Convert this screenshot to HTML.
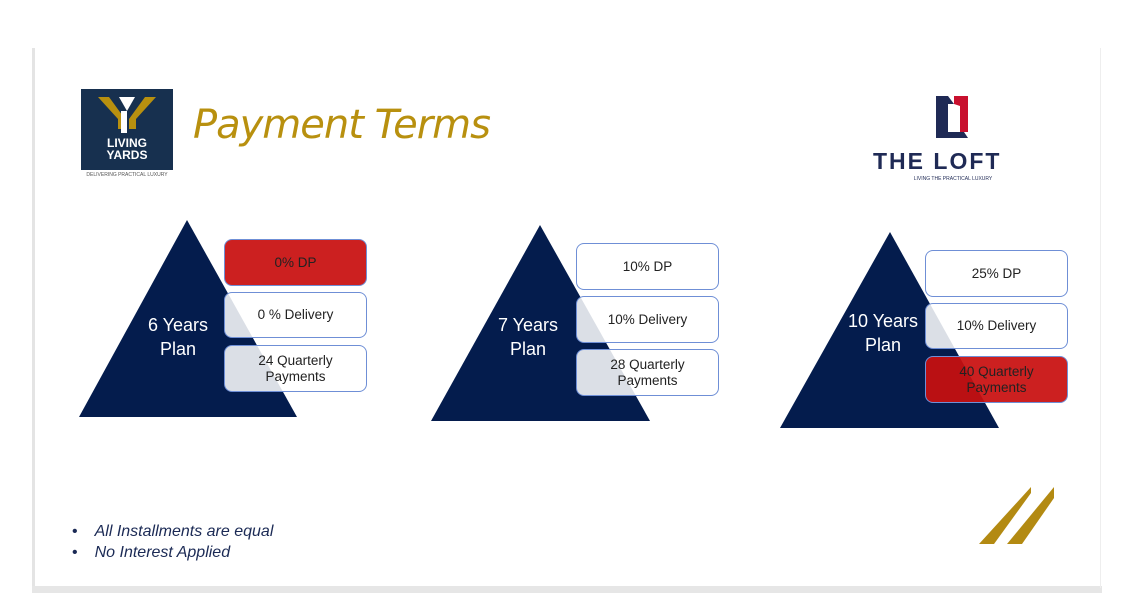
<!DOCTYPE html>
<html><head><style>
body{margin:0;width:1129px;height:600px;background:#fff;position:relative;overflow:hidden;font-family:"Liberation Sans",sans-serif}
.abs{position:absolute}
.box{position:absolute;width:143px;border:1.5px solid #6f8fd6;border-radius:8px;background:rgba(255,255,255,0.86);display:flex;align-items:center;justify-content:center;text-align:center;font-size:13.5px;color:#222;line-height:16px;box-sizing:border-box}
.red{background:rgba(200,15,15,0.93);color:#222}
.pl{position:absolute;color:#fff;font-size:18px;text-align:center;line-height:24px;width:100px}
</style></head><body>
<div class="abs" style="left:32px;top:48px;width:3px;height:545px;background:#e4e4e4"></div>
<div class="abs" style="left:32px;top:586px;width:1070px;height:7px;background:#e6e6e6"></div>
<div class="abs" style="left:1100px;top:48px;width:1px;height:540px;background:#eee"></div>

<div class="abs" style="left:81px;top:89px;width:92px;height:81px;background:#17304f"></div>
<svg class="abs" style="left:81px;top:89px" width="92" height="81">
<polygon points="17,8 28,8 44,30 44,40 37,40 37,30" fill="#b8900f"/>
<polygon points="75,8 64,8 48,30 48,40 55,40 55,30" fill="#b8900f"/>
<polygon points="38,8 46,22 54,8" fill="#fff"/>
<rect x="40" y="22" width="6" height="22" fill="#fff"/>
<text x="46" y="58" fill="#fff" font-size="12" font-weight="bold" text-anchor="middle">LIVING</text>
<text x="46" y="70" fill="#fff" font-size="12" font-weight="bold" text-anchor="middle">YARDS</text>
</svg>
<div class="abs" style="left:81px;top:172px;font-size:5px;color:#555;width:92px;text-align:center">DELIVERING PRACTICAL LUXURY</div>
<div class="abs" style="left:193px;top:102px;font-size:40px;font-style:italic;color:#b8900f;font-family:'DejaVu Sans',sans-serif;letter-spacing:-1px">Payment Terms</div>

<svg class="abs" style="left:934px;top:96px" width="40" height="48">
<polygon points="2,0 14,0 20,8 14,8 14,36 30,36 34,42 2,42" fill="#1f2a55"/>
<polygon points="20,0 34,0 34,36 26,36 26,10 20,8" fill="#c8102e"/>
<polygon points="14,42 22,36 30,42" fill="#1f2a55"/>
</svg>
<div class="abs" style="left:873px;top:148px;font-size:23px;font-weight:bold;color:#1f2a55;letter-spacing:2px">THE LOFT</div>
<div class="abs" style="left:873px;top:176px;width:160px;text-align:center;font-size:5px;color:#1f2a55">LIVING THE PRACTICAL LUXURY</div>

<svg class="abs" style="left:0;top:0" width="1129" height="600">
<polygon points="187,220 79,417 297,417" fill="#041c4d"/>
<polygon points="540,225 431,421 650,421" fill="#041c4d"/>
<polygon points="890,232 780,428 999,428" fill="#041c4d"/>
<polygon points="979,544 994,544 1031,493 1031,487" fill="#b38a12"/>
<polygon points="1007,544 1022,544 1054,498 1054,487" fill="#b38a12"/>
</svg>
<div class="pl" style="left:128px;top:313px">6 Years<br>Plan</div>
<div class="pl" style="left:478px;top:313px">7 Years<br>Plan</div>
<div class="pl" style="left:833px;top:309px">10 Years<br>Plan</div>

<div class="box red" style="left:224px;top:239px;height:47px">0% DP</div>
<div class="box" style="left:224px;top:292px;height:46px">0 % Delivery</div>
<div class="box" style="left:224px;top:345px;height:47px">24 Quarterly<br>Payments</div>
<div class="box" style="left:576px;top:243px;height:47px">10% DP</div>
<div class="box" style="left:576px;top:296px;height:47px">10% Delivery</div>
<div class="box" style="left:576px;top:349px;height:47px">28 Quarterly<br>Payments</div>
<div class="box" style="left:925px;top:250px;height:47px">25% DP</div>
<div class="box" style="left:925px;top:303px;height:46px">10% Delivery</div>
<div class="box red" style="left:925px;top:356px;height:47px">40 Quarterly<br>Payments</div>

<div class="abs" style="left:72px;top:521px;font-size:16px;font-style:italic;color:#1b2a55;line-height:21px">
<span style="font-style:normal;margin-right:17px">•</span>All Installments are equal<br>
<span style="font-style:normal;margin-right:17px">•</span>No Interest Applied</div>
</body></html>
